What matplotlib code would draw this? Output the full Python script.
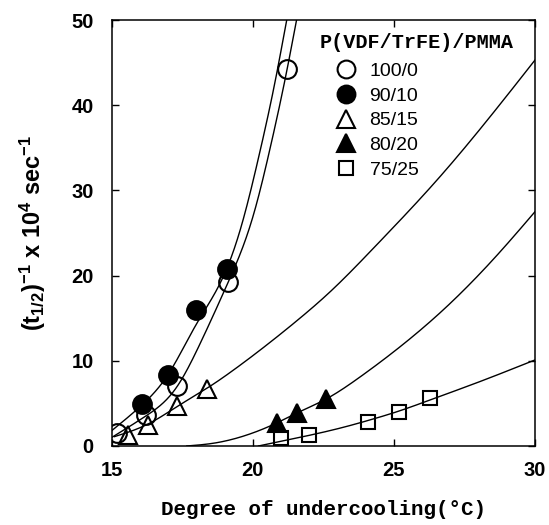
import numpy as np
import matplotlib
matplotlib.use('Agg')
import matplotlib.pyplot as plt

# measured points (degree of undercooling, 1/t_half x 1e4 s^-1)
x_100_0 = [15.18, 16.2, 17.30, 19.11, 21.22]
y_100_0 = [1.56, 3.64, 7.04, 19.21, 44.3]
x_90_10 = [16.08, 16.98, 17.98, 19.07]
y_90_10 = [4.93, 8.37, 15.96, 20.77]
x_85_15 = [15.59, 16.3, 17.3, 18.37]
y_85_15 = [1.29, 2.46, 4.69, 6.65]
x_80_20 = [20.87, 21.58, 22.59]
y_80_20 = [2.74, 3.9, 5.5]
x_75_25 = [21.0, 22.0, 24.09, 25.18, 26.28]
y_75_25 = [0.9, 1.29, 2.78, 4.03, 5.6]

# fitted curves
cx_90_10 = [15.0, 16.0, 17.0, 18.0, 19.1, 19.66, 20.2, 20.88, 21.2, 21.4]
cy_90_10 = [1.8, 4.6, 8.4, 14.3, 21.0, 26.6, 33.8, 44.3, 50.0, 53.5]
cx_100_0 = [15.0, 16.2, 17.3, 18.13, 19.11, 20.02, 20.61, 21.22, 21.55, 21.75]
cy_100_0 = [1.0, 3.5, 6.9, 12.0, 19.1, 27.1, 34.9, 44.3, 50.0, 53.5]
cx_85_15 = [15.1, 16.3, 17.4, 18.48, 19.31, 20.49, 21.67, 22.74, 24.3, 26.63, 30.0]
cy_85_15 = [1.1, 2.6, 4.8, 7.0, 8.9, 11.85, 15.0, 18.1, 23.3, 31.6, 45.3]
cx_80_20 = [17.66, 18.6, 19.79, 20.87, 21.58, 22.59, 23.8, 25.22, 26.87, 28.82, 30.0]
cy_80_20 = [0.0, 0.32, 1.29, 2.74, 3.9, 5.5, 8.1, 11.65, 16.35, 23.0, 27.5]
cx_75_25 = [20.2, 21.0, 22.0, 23.33, 24.09, 25.18, 26.28, 28.0, 30.0]
cy_75_25 = [0.0, 0.55, 1.25, 2.3, 3.0, 4.1, 5.4, 7.5, 10.1]

labels = ['100/0', '90/10', '85/15', '80/20', '75/25']


def smooth(xs, ys, n=300):
    # natural cubic spline through the read points, only for drawing
    xs = np.asarray(xs, float)
    ys = np.asarray(ys, float)
    k = len(xs)
    h = np.diff(xs)
    A = np.zeros((k, k))
    r = np.zeros(k)
    A[0, 0] = A[-1, -1] = 1
    for i in range(1, k - 1):
        A[i, i - 1] = h[i - 1]
        A[i, i] = 2 * (h[i - 1] + h[i])
        A[i, i + 1] = h[i]
        r[i] = 3 * ((ys[i + 1] - ys[i]) / h[i] - (ys[i] - ys[i - 1]) / h[i - 1])
    c = np.linalg.solve(A, r)
    b = np.diff(ys) / h - h * (2 * c[:-1] + c[1:]) / 3
    d = np.diff(c) / (3 * h)
    xx = np.linspace(xs[0], xs[-1], n)
    j = np.clip(np.searchsorted(xs, xx) - 1, 0, k - 2)
    t = xx - xs[j]
    yy = ys[j] + b[j] * t + c[j] * t ** 2 + d[j] * t ** 3
    return xx, yy


plt.rcParams['mathtext.fontset'] = 'custom'
plt.rcParams['mathtext.rm'] = 'Liberation Sans:bold'
plt.rcParams['mathtext.it'] = 'Liberation Sans:bold'
plt.rcParams['mathtext.bf'] = 'Liberation Sans:bold'

fig = plt.figure(figsize=(5.49, 5.25), dpi=100)
ax = fig.add_axes([0.2035, 0.1505, 0.771, 0.8114])

for cx, cy in [(cx_90_10, cy_90_10), (cx_100_0, cy_100_0), (cx_85_15, cy_85_15),
               (cx_80_20, cy_80_20), (cx_75_25, cy_75_25)]:
    xx, yy = smooth(cx, cy)
    ax.plot(xx, yy, color='black', lw=1.0, zorder=2)

mk = dict(color='black', ls='none', mew=1.5, zorder=3)
h1, = ax.plot(x_100_0, y_100_0, marker='o', ms=13.5, mfc='none', **mk)
h2, = ax.plot(x_90_10, y_90_10, marker='o', ms=13.5, mfc='black', **mk)
h3, = ax.plot(x_85_15, y_85_15, marker='^', ms=13, mfc='none', **mk)
h4, = ax.plot(x_80_20, y_80_20, marker='^', ms=13, mfc='black', **mk)
h5, = ax.plot(x_75_25, y_75_25, marker='s', ms=10, mfc='none', **mk)

ax.set_xlim(15, 30)
ax.set_ylim(0, 50)
ax.set_xticks([15, 20, 25, 30])
ax.set_yticks([0, 10, 20, 30, 40, 50])
ax.tick_params(direction='in', top=True, right=True, length=5, width=1.0)
ax.tick_params(axis='x', pad=11)
ax.tick_params(axis='y', pad=13)
for lab in ax.get_xticklabels() + ax.get_yticklabels():
    lab.set_fontfamily('Liberation Sans')
    lab.set_fontweight('bold')
    lab.set_fontsize(14.5)
for sp in ax.spines.values():
    sp.set_linewidth(1.1)

ax.set_xlabel('Degree of undercooling(°C)', family='Liberation Mono',
              weight='bold', fontsize=15, labelpad=14)
ax.set_ylabel(r'$(t_{1/2})^{-1}$ x 10$^{4}$ sec$^{-1}$', family='Liberation Sans',
              weight='bold', fontsize=17, labelpad=17)

ax.text(0.492, 0.948, 'P(VDF/TrFE)/PMMA', transform=ax.transAxes,
        family='Liberation Mono', weight='bold', fontsize=14.5, va='center')
leg = ax.legend([h1, h2, h3, h4, h5], labels, loc='upper left',
                bbox_to_anchor=(0.508, 0.923), frameon=False, borderpad=0,
                handlelength=1.0, handletextpad=0.7, labelspacing=0.36,
                prop={'family': 'Liberation Sans', 'size': 14}, markerscale=0.95)

fig.savefig('out.png', dpi=100)
